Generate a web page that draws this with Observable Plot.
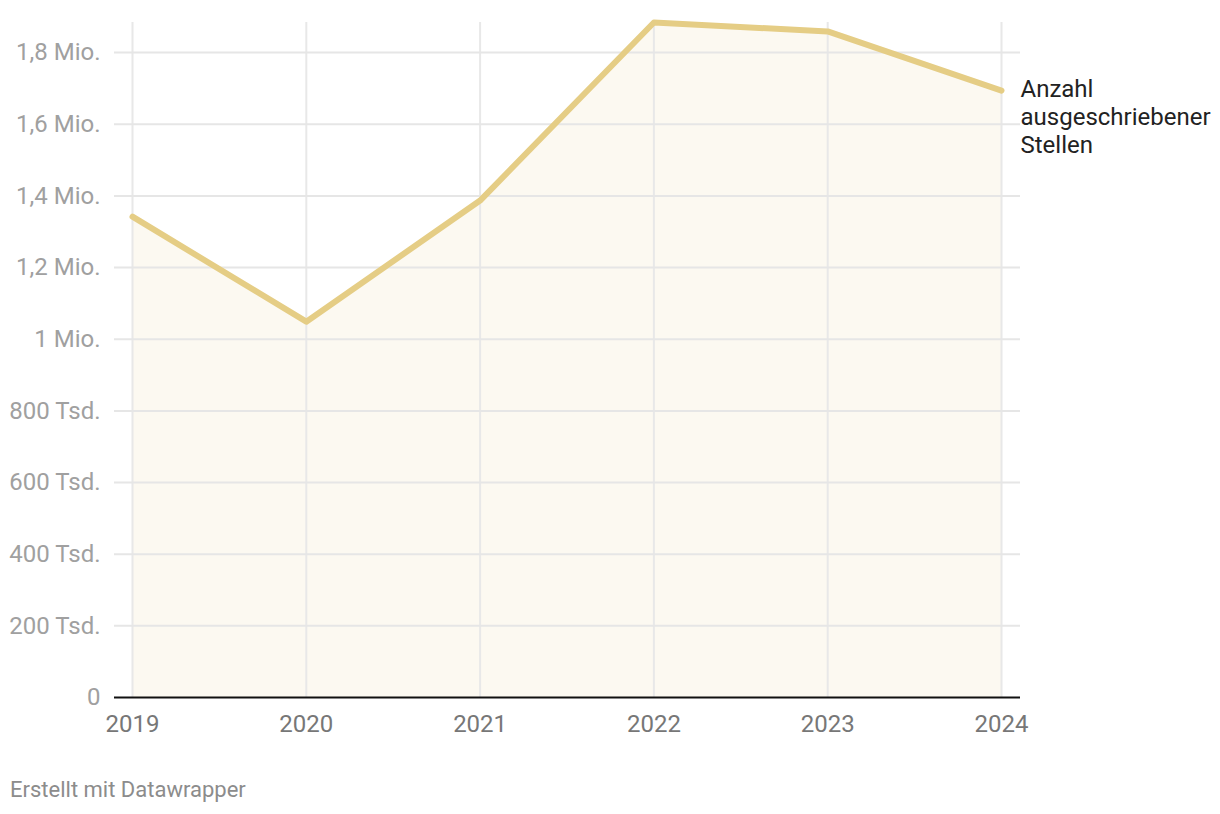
<!DOCTYPE html>
<html>
<head>
<meta charset="utf-8">
<script src="https://cdn.jsdelivr.net/npm/d3@7"></script>
<script src="https://cdn.jsdelivr.net/npm/@observablehq/plot@0.6"></script>
<style>
  html, body { margin: 0; padding: 0; background: #fff; }
  body { width: 1220px; height: 814px; position: relative; font-family: Roboto, sans-serif; }
  #footer { position: absolute; left: 10px; top: 777px; font-size: 22px; line-height: 26px; color: #8c8c8c; font-family: Roboto, sans-serif; }
</style>
</head>
<body>
<div id="chart"></div>
<div id="footer">Erstellt mit Datawrapper</div>
<script>
const years = [2019, 2020, 2021, 2022, 2023, 2024];
const stellen = [1342000, 1049000, 1387000, 1884000, 1859000, 1694000];
const yTicks = [0, 200000, 400000, 600000, 800000, 1000000, 1200000, 1400000, 1600000, 1800000];
const seriesLabel = "Anzahl\nausgeschriebener\nStellen";

const data = years.map((y, i) => ({year: y, value: stellen[i]}));
const last = data[data.length - 1];

const fmtY = d => d === 0 ? "0"
  : d >= 1e6 ? (d / 1e6).toLocaleString("de-DE") + " Mio."
  : (d / 1e3).toLocaleString("de-DE") + " Tsd.";

const chart = Plot.plot({
  width: 1220,
  height: 770,
  marginLeft: 114,
  marginRight: 200,
  marginTop: 22,
  marginBottom: 73,
  style: {fontFamily: "Roboto, sans-serif", fontSize: "24px", background: "transparent"},
  x: {domain: [2019, 2024], insetLeft: 18, insetRight: 19},
  y: {domain: [0, d3.max(stellen)]},
  marks: [
    Plot.areaY(data, {x: "year", y: "value", fill: "#fcf9f1"}),
    Plot.ruleX(years, {stroke: "#e8e8e8", strokeWidth: 2}),
    Plot.ruleY(yTicks.filter(d => d > 0), {stroke: "#e6e6e6", strokeWidth: 2}),
    Plot.ruleY([0], {stroke: "#111", strokeWidth: 2}),
    Plot.lineY(data, {x: "year", y: "value", stroke: "#e5cd85", strokeWidth: 6, strokeLinecap: "round", strokeLinejoin: "round"}),
    Plot.axisY({ticks: yTicks, tickFormat: fmtY, tickSize: 0, tickPadding: 14, fill: "#a0a0a0", fontSize: 24, label: null}),
    Plot.axisX({ticks: years, tickFormat: d => String(d), tickSize: 0, tickPadding: 17, fill: "#777", fontSize: 24, label: null}),
    Plot.text([last], {x: "year", y: "value", text: () => seriesLabel, textAnchor: "start", lineAnchor: "top", dx: 19, dy: -14, lineHeight: 1.17, fill: "#222", fontSize: 24})
  ]
});
document.getElementById("chart").appendChild(chart);
</script>
</body>
</html>
